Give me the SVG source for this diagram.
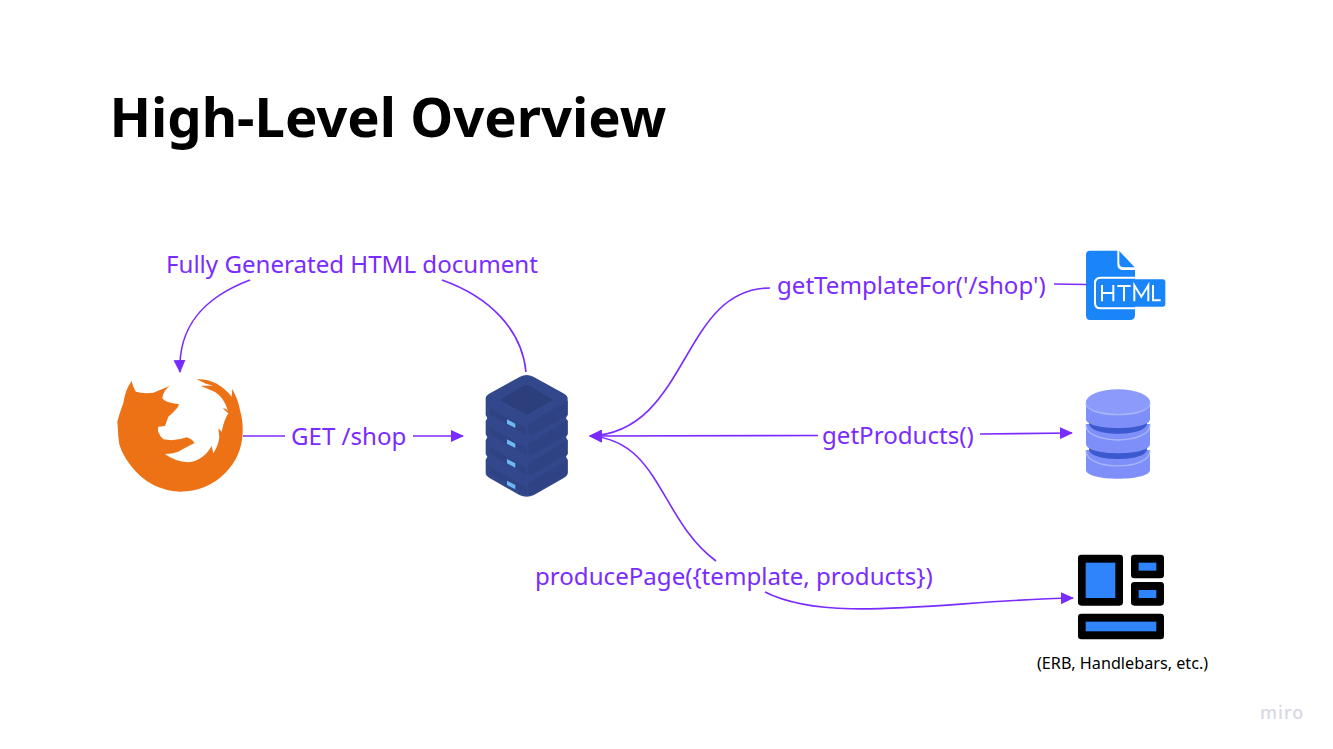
<svg xmlns="http://www.w3.org/2000/svg" width="1333" height="749" viewBox="0 0 1333 749">
<style>
text{font-family:"Noto Sans","Open Sans",sans-serif}
.t{font-size:24.1px;fill:#7a2bff}
.c{fill:none;stroke:#7a2bff;stroke-width:1.6}
</style>
<defs>
<marker id="a" viewBox="0 0 13 12" markerUnits="userSpaceOnUse" markerWidth="13" markerHeight="12" refX="12" refY="6" orient="auto"><path d="M0 0L13 6L0 12Z" fill="#7a2bff"/></marker>
</defs>
<rect width="1333" height="749" fill="#fff"/>
<text id="title" x="109.500" y="137" font-size="54.400" font-weight="700" fill="#000">High-Level Overview</text>
<g id="connectors">
<path class="c" d="M243 436H285"/>
<path class="c" d="M413 436H463" marker-end="url(#a)"/>
<path class="c" d="M526 372C522 330 490 297 442 280"/>
<path class="c" d="M250 280C205 297 178 325 180 372" marker-end="url(#a)"/>
<path class="c" d="M770 288C680 288 690 432 590 436" marker-end="url(#a)"/>
<path class="c" d="M818 435.500L590 436" marker-end="url(#a)"/>
<path class="c" d="M716 561C660 520 660 440 590 436" marker-end="url(#a)"/>
<path class="c" d="M1054 284L1086 284.500"/>
<path class="c" d="M980 434L1072 433" marker-end="url(#a)"/>
<path class="c" d="M765 592C830 625 950 600 1073 598" marker-end="url(#a)"/>
</g>
<g id="labels">
<text class="t" x="166" y="273">Fully Generated HTML document</text>
<text class="t" x="291" y="445">GET /shop</text>
<text class="t" x="777" y="294">getTemplateFor('/shop')</text>
<text class="t" x="822" y="444">getProducts()</text>
<text class="t" x="535" y="585">producePage({template, products})</text>
</g>
<g id="firefox" transform="translate(100 240) scale(.3333)">
<path fill="#ec7215" d="M95 423Q100 445 108 455Q130 462 160 458Q185 448 210 437Q190 450 187 475Q195 488 237 493Q235 505 205 530L195 558L175 560Q168 575 190 598Q225 605 260 592Q280 598 283 610Q265 618 235 635Q215 642 195 642Q225 665 265 667Q310 662 335 618L340 640Q356 615 358 590L355 565L365 575Q372 540 385 520L368 505Q378 505 384 512Q372 472 345 456L302 437L340 437L318 431L290 418Q350 415 395 470L397 447Q415 480 420 510Q430 545 428 580Q425 650 375 700Q320 755 240 755Q150 750 95 680Q55 630 55 590L52 545Q62 510 70 490Q75 450 95 423Z"/>
</g>
<g id="server" transform="translate(460 350) scale(.3333)">
<path fill="#33488c" d="M77 145Q77 138 90 130L180 80Q200 70 220 80L310 130Q323 138 323 145V195L318 204L323 213V253L318 262L323 271V312L318 320L323 329V370Q323 378 310 385L222 435Q200 445 178 435L90 385Q77 378 77 370V329L82 320L77 312V271L82 262L77 253V213L82 204L77 195Z"/>
<path fill="#2c3e7b" d="M120 150L190 108Q200 102 210 108L280 150L205 192Q200 195 195 192Z"/>
<path fill="#2c3e7b" d="M88 172L200 236V256L88 192ZM88 231L200 295V315L88 251ZM88 290L200 354V374L88 310ZM88 349L200 413V433L88 369Z" opacity=".55"/>
<path fill="#2f4384" d="M205 222L323 152V195L215 257Q205 262 205 245ZM205 281L323 211V253L215 316Q205 320 205 304ZM205 340L323 270V312L215 375Q205 379 205 363ZM205 399L323 329V370L215 434Q205 438 205 422Z"/>
<path fill="#6ab9f2" d="M141 208L166 221V234L141 221ZM141 268L166 281V294L141 281ZM141 327L166 340V353L141 340ZM141 392L166 405V418L141 405Z"/>
</g>
<g id="html" transform="translate(1040 240) scale(.3333)">
<path fill="#1a85f8" d="M150 32H232V72Q232 90 250 90H285V225Q285 240 270 240H150Q138 240 138 225V44Q138 32 150 32Z"/>
<path fill="#1a85f8" d="M238 33L284 82H252Q238 82 238 68Z"/>
<rect x="170" y="118" width="206" height="82" rx="8" fill="#1a85f8"/>
<path d="M285 113H182Q165 113 165 130V188Q165 205 182 205H285" fill="none" stroke="#fff" stroke-width="6"/>
<path d="M186 135V184M186 159H220M220 135V184M232 138H272M252 138V184M283 184V136L304 170L325 136V184M339 135V181H362" fill="none" stroke="#fff" stroke-width="6"/>
</g>
<g id="database" transform="translate(1040 240) scale(.3333)">
<path fill="#7f8ff9" d="M138 630V690C138 725 330 725 330 690V630Z"/>
<path fill="none" stroke="#aab6fb" stroke-width="4" d="M138 632C138 693 330 693 330 632"/>
<path fill="#3d59cf" d="M147 600H321V628C321 667 147 667 147 628Z"/>
<path fill="#7f8ff9" d="M138 552V612C138 649 330 649 330 612V552Z"/>
<path fill="none" stroke="#aab6fb" stroke-width="4" d="M138 555C138 615 330 615 330 555"/>
<path fill="#3d59cf" d="M147 525H321V550C321 592 147 592 147 550Z"/>
<path fill="#7f8ff9" d="M138 486V538C138 573 330 573 330 538V486Z"/>
<ellipse cx="234" cy="486" rx="96" ry="38" fill="#8c9bfb"/>
<path fill="none" stroke="#aab6fb" stroke-width="4" d="M138 490C140 535 328 535 330 490"/>
</g>
<g id="template" transform="translate(1030 540) scale(.3333)">
<rect x="144" y="44" width="135" height="153" rx="10"/>
<rect x="303" y="44" width="99" height="71" rx="10"/>
<rect x="303" y="126" width="99" height="71" rx="10"/>
<rect x="144" y="221" width="258" height="77" rx="10"/>
<g fill="#2f84fb">
<rect x="167" y="68" width="89" height="106"/>
<rect x="326" y="68" width="53" height="24"/>
<rect x="326" y="150" width="53" height="24"/>
<rect x="167" y="245" width="212" height="29"/>
</g>
</g>
<text id="template-note" x="1037" y="669" font-size="16.200" fill="#000">(ERB, Handlebars, etc.)</text>
<text id="miro" x="1260" y="719" font-size="18" font-weight="500" letter-spacing="1" fill="#d8d8e2">miro</text>
</svg>
